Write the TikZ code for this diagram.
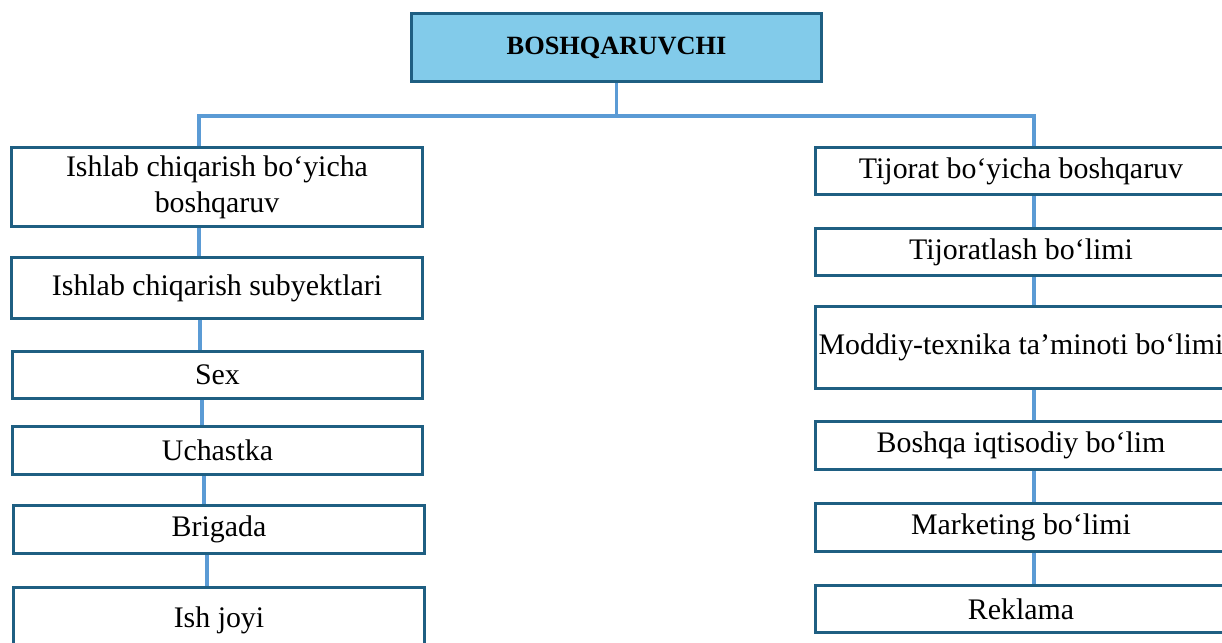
\documentclass[tikz,border=0pt]{standalone}
\usepackage{fontspec}
\setmainfont{Liberation Serif}
\usepackage{tikz}

\definecolor{boxline}{HTML}{1F5F82}
\definecolor{linkblue}{HTML}{5B9BD5}
\definecolor{headfill}{HTML}{82CBEA}

\begin{document}
\begin{tikzpicture}[x=0.02cm,y=-0.02cm,
	unit/.style={draw=boxline,line width=1.7pt,fill=white,minimum width=8.22cm,
		align=center,font=\fontsize{17}{20.4}\selectfont},
	head/.style={unit,fill=headfill,minimum width=8.2cm,minimum height=1.36cm,
		font=\fontsize{15}{18}\selectfont\bfseries},
	link/.style={draw=linkblue,line width=2pt}]
			% Boshqaruv tuzilmasi
			\useasboundingbox (0,0) rectangle (1222,642);
			\clip (0,0) rectangle (1222,642);
			\node[head] (Boshqaruvchi) at (616.5,47.5) {BOSHQARUVCHI};
			
			\node[unit,minimum height=1.58cm] (IshlabBoshqaruv) at (217,187) {Ishlab chiqarish bo‘yicha\\boshqaruv};
			\node[unit,minimum height=1.22cm] (IshlabSubyekt) at (217,288) {Ishlab chiqarish subyektlari};
			\node[unit,minimum height=0.94cm] (Sex) at (217.5,375) {Sex};
			\node[unit,minimum height=0.96cm] (Uchastka) at (217.5,450.5) {Uchastka};
			\node[unit,minimum height=0.96cm] (Brigada) at (219,529.5) {Brigada};
			\node[unit,minimum height=1.3cm] (IshJoyi) at (219,620) {Ish joyi};
			
			\node[unit,minimum height=0.94cm] (TijoratBoshqaruv) at (1021,171) {Tijorat bo‘yicha boshqaruv};
			\node[unit,minimum height=0.94cm] (Tijoratlash) at (1021,252) {Tijoratlash bo‘limi};
			\node[unit,minimum height=1.64cm,inner xsep=2pt] (Moddiy) at (1021,347.5) {Moddiy-texnika ta’minoti bo‘limi};
			\node[unit,minimum height=0.96cm] (Boshqa) at (1021,445.5) {Boshqa iqtisodiy bo‘lim};
			\node[unit,minimum height=0.96cm] (Marketing) at (1021,527.5) {Marketing bo‘limi};
			\node[unit,minimum height=0.94cm] (Reklama) at (1021,609) {Reklama};
			
			\coordinate (ChapTarmoq) at (199,116);
			\coordinate (OngTarmoq) at (1034,116);
			
			\draw[link] (Boshqaruvchi.south) |- (ChapTarmoq) -- (ChapTarmoq |- IshlabBoshqaruv.north);
			\draw[link] (Boshqaruvchi.south) |- (OngTarmoq) -- (OngTarmoq |- TijoratBoshqaruv.north);
			
			\draw[link] (IshlabBoshqaruv.south -| ChapTarmoq) to (IshlabSubyekt.north -| ChapTarmoq);
			\draw[link] ([xshift=0.02cm]IshlabSubyekt.south -| ChapTarmoq) to ([xshift=0.02cm]Sex.north -| ChapTarmoq);
			\draw[link] ([xshift=0.06cm]Sex.south -| ChapTarmoq) to ([xshift=0.06cm]Uchastka.north -| ChapTarmoq);
			\draw[link] ([xshift=0.1cm]Uchastka.south -| ChapTarmoq) to ([xshift=0.1cm]Brigada.north -| ChapTarmoq);
			\draw[link] ([xshift=0.16cm]Brigada.south -| ChapTarmoq) to ([xshift=0.16cm]IshJoyi.north -| ChapTarmoq);
			
			\draw[link] (TijoratBoshqaruv.south -| OngTarmoq) to (Tijoratlash.north -| OngTarmoq);
			\draw[link] (Tijoratlash.south -| OngTarmoq) to (Moddiy.north -| OngTarmoq);
			\draw[link] (Moddiy.south -| OngTarmoq) to (Boshqa.north -| OngTarmoq);
			\draw[link] (Boshqa.south -| OngTarmoq) to (Marketing.north -| OngTarmoq);
			\draw[link] (Marketing.south -| OngTarmoq) to (Reklama.north -| OngTarmoq);
			
\end{tikzpicture}
\end{document}
